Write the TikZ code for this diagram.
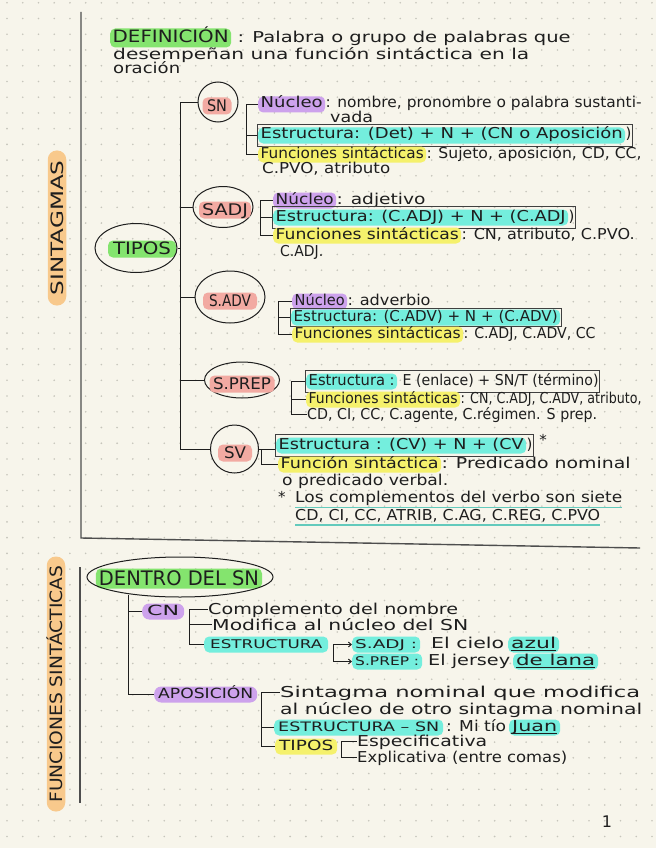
\documentclass[tikz,border=0pt]{standalone}
\usepackage{fontspec}
\setmainfont{DejaVu Sans}
\usepackage{graphicx}
\usetikzlibrary{shapes.geometric,arrows.meta,fit}
\definecolor{paper}{HTML}{F7F5EB}
\definecolor{griddot}{HTML}{C6C5BB}
\definecolor{ink}{HTML}{1E1E1E}
\definecolor{rulegray}{HTML}{4E4E4E}
\definecolor{hlgreen}{HTML}{84E46E}
\definecolor{hlpurple}{HTML}{CDA2EC}
\definecolor{hlpink}{HTML}{F2AAA2}
\definecolor{hlcyan}{HTML}{74EEDD}
\definecolor{hlyellow}{HTML}{F5F16C}
\definecolor{hlorange}{HTML}{F8C98C}
\newcommand{\fs}[1]{\fontsize{#1}{#1}\selectfont}
\newcommand{\hw}[2]{\resizebox{#1pt}{\height}{#2}} % stretch a hand-written line to its width
\tikzset{
    txt/.style={inner sep=0pt, anchor=base west, text=ink, font=\fs{15}},
    hl/.style={txt, inner xsep=2.5pt, inner ysep=2pt, text height=9.5pt, text depth=2.5pt, rounded corners=5pt},
    hlg/.style={hl, fill=hlgreen},
    hlp/.style={hl, fill=hlpurple},
    hlk/.style={hl, fill=hlpink, anchor=center, font=\fs{16}, text height=11.5pt, text depth=0.5pt, inner ysep=2.5pt},
    hlc/.style={hl, fill=hlcyan},
    hly/.style={hl, fill=hlyellow},
    sidelabel/.style={fill=hlorange, rotate=90, anchor=center, rounded corners=9pt, inner xsep=10pt, inner ysep=3pt,
        text height=12.5pt, text depth=0pt, text=ink, font=\fs{17}},
    ln/.style={draw=ink, line width=0.9pt},
    ring/.style={ellipse, draw=ink, line width=1pt, inner sep=0pt},
    ebox/.style={draw=ink!85, line width=1pt, inner xsep=1pt, inner ysep=2.5pt},
    pagerule/.style={draw=rulegray, line width=1.4pt},
    uline/.style={draw=hlcyan!85!black, line width=1.2pt},
    tline/.style={draw=ink, line width=0.7pt},
    arr/.style={ln, -{Straight Barb[length=3pt,width=5pt]}}
}
\begin{document}
\begin{tikzpicture}[x=1pt,y=-1pt]
    \useasboundingbox (0,0) rectangle (656,848);
    \fill[paper] (0,0) rectangle (656,848); % paper
    \foreach \i in {0,...,41}{
        \foreach \j in {0,...,53}{
            \fill[griddot] (7+15.73*\i,2.8+15.73*\j) circle (0.9pt); % dot grid
        }
    }

    % page rules and side labels
    \draw[pagerule] (81,12) -- (81,538) -- (640,548);
    \draw[pagerule] (80,567) -- (80,803);
    \node[sidelabel] (sintagmas) at (57,228) {\hw{135}{SINTAGMAS}};
    \node[sidelabel, inner xsep=9pt] (funciones) at (56,684) {\hw{237}{FUNCIONES SINTÁCTICAS}};

    % definition
    \node[hlg, font=\fs{17}, text height=12.5pt] (defin) at (110,43) {\hw{116}{DEFINICIÓN}};
    \node[txt] (def1) at ([xshift=6pt]defin.base east) {\hw{333}{: Palabra o grupo de palabras que}};
    \node[txt] (def2) at (113,60) {\hw{416}{desempeñan una función sintáctica en la}};
    \node[txt] (def3) at (113,74) {\hw{67}{oración}};

    % tipos and the five sintagmas
    \node[hlg, anchor=center, font=\fs{17}, text height=12pt, text depth=1pt, inner xsep=5pt] (tiposlab) at (142,249) {\hw{58}{TIPOS}};
    \node[ring, minimum width=82, minimum height=49] (tipos) at (136,248) {};
    \node[ring, minimum width=40, minimum height=40] (sn) at (218,102) {};
    \node[hlk, inner xsep=4.5pt] (snlab) at (217,106) {\hw{20}{SN}};
    \node[ring, minimum width=60, minimum height=41] (sadj) at (223,207) {};
    \node[hlk, inner xsep=3pt] (sadjlab) at (225,210) {\hw{46}{SADJ}};
    \node[ring, minimum width=70, minimum height=52] (sadv) at (230,297) {};
    \node[hlk, inner xsep=6pt] (sadvlab) at (230,301) {\hw{42}{S.ADV}};
    \node[ring, minimum width=75, minimum height=36] (sprep) at (242,380) {};
    \node[hlk, inner xsep=3.5pt] (spreplab) at (242,384) {\hw{58}{S.PREP}};
    \node[ring, minimum width=48, minimum height=48] (sv) at (234.5,449) {};
    \node[hlk, inner xsep=6pt] (svlab) at (235,453) {\hw{22}{SV}};
    \coordinate (spbot) at ([xshift=-30pt]sv.west);
    \draw[ln] (sn.west) -| (spbot) -- (sv.west);
    \foreach \n in {sadj,sadv,sprep}
        \draw[ln] (\n.west -| spbot) -- (\n.west);
    \draw[ln] (tipos.east) -- (tipos.east -| spbot);

    % SN
    \node[hlp] (snnuc) at (258,108) {\hw{62}{Núcleo}};
    \node[txt] (snnuct) at (snnuc.base east) {\hw{316}{: nombre, pronombre o palabra sustanti-}};
    \node[txt] (snvada) at (330,123) {\hw{43}{vada}};
    \node[hlc] (snest) at (258,139) {\hw{362}{Estructura: (Det) + N + (CN o Aposición}};
    \node[txt] (snestp) at (snest.base east) {)};
    \node[ebox, fit=(snest)(snestp)] (snbox) {};
    \node[hly] (snfun) at (258,158) {\hw{163}{Funciones sintácticas}};
    \node[txt] (snfunt) at (snfun.base east) {\hw{215}{: Sujeto, aposición, CD, CC,}};
    \node[txt] (snfun2) at (262,173) {\hw{128}{C.PVO, atributo}};
    \coordinate (snbr) at ([xshift=-12pt]snnuc.west);
    \foreach \t in {snnuc,snbox,snfun}
        \draw[ln] (snbr) |- (\t.west);

    % SADJ
    \node[hlp] (sanuc) at (273,204) {\hw{58}{Núcleo}};
    \node[txt] (sanuct) at (sanuc.base east) {\hw{89}{: adjetivo}};
    \node[hlc] (saest) at (273,221) {\hw{290}{Estructura: (C.ADJ) + N + (C.ADJ}};
    \node[txt] (saestp) at (saest.base east) {)};
    \node[ebox, fit=(saest)(saestp)] (sabox) {};
    \node[hly] (safun) at (273,239) {\hw{183}{Funciones sintácticas}};
    \node[txt] (safunt) at (safun.base east) {\hw{173}{: CN, atributo, C.PVO.}};
    \node[txt] (safun2) at (280,256) {\hw{43}{C.ADJ.}};
    \coordinate (sabr) at ([xshift=-13pt]sanuc.west);
    \foreach \t in {sanuc,sabox,safun}
        \draw[ln] (sabr) |- (\t.west);

    % S.ADV
    \node[hlp] (adnuc) at (292,305) {\hw{50}{Núcleo}};
    \node[txt] (adnuct) at (adnuc.base east) {\hw{83}{: adverbio}};
    \node[hlc] (adest) at (291,321) {\hw{264}{Estructura: (C.ADV) + N + (C.ADV)}};
    \node[ebox, inner ysep=1pt, fit=(adest)] (adbox) {};
    \node[hly] (adfun) at (292,338) {\hw{166}{Funciones sintácticas}};
    \node[txt] (adfunt) at (adfun.base east) {\hw{132}{: C.ADJ, C.ADV, CC}};
    \coordinate (adbr) at ([xshift=-14pt]adnuc.west);
    \foreach \t in {adnuc,adbox,adfun}
        \draw[ln] (adbr) |- (\t.west);

    % S.PREP
    \node[hlc] (prest) at (306,385) {\hw{86}{Estructura :}};
    \node[txt] (prestt) at ([xshift=5pt]prest.base east) {\hw{196}{E (enlace) + SN/T (término)}};
    \node[ebox, fit=(prest)(prestt)] (prbox) {};
    \node[hly] (prfun) at (306,403) {\hw{149}{Funciones sintácticas}};
    \node[txt] (prfunt) at (prfun.base east) {\hw{181}{: CN, C.ADJ, C.ADV, atributo,}};
    \node[txt] (prfun2) at (307,419) {\hw{290}{CD, CI, CC, C.agente, C.régimen. S prep.}};
    \coordinate (prbr) at ([xshift=-13pt]prbox.west);
    \foreach \t in {prbox,prfun,prfun2}
        \draw[ln] (prbr) |- (\t.west);

    % SV
    \node[hlc] (svest) at (276,449) {\hw{245}{Estructura : (CV) + N + (CV}};
    \node[txt] (svestp) at (svest.base east) {)};
    \node[ebox, fit=(svest)(svestp)] (svbox) {};
    \node[txt, anchor=north west] (svstar) at ([xshift=5pt]svbox.north east) {*};
    \node[hly] (svfun) at (278,468) {\hw{158}{Función sintáctica}};
    \node[txt] (svfunt) at (svfun.base east) {\hw{189}{: Predicado nominal}};
    \node[txt] (svfun2) at (282,485) {\hw{166}{o predicado verbal.}};
    \node[txt] (svast) at (278,502) {*};
    \node[txt] (svnote) at (295,502) {\hw{327}{Los complementos del verbo son siete}};
    \node[txt] (svlist) at (295,520) {\hw{305}{CD, CI, CC, ATRIB, C.AG, C.REG, C.PVO}};
    \draw[uline] ([yshift=-2pt]svnote.south west) -- ([yshift=-2pt]svnote.south east);
    \draw[uline] ([yshift=-3pt]svlist.south west) -- ([yshift=-3pt]svlist.south east);
    \coordinate (svbr) at ([xshift=2pt]sv.east);
    \draw[ln] (sv.east) -- (sv.east -| svbox.west);
    \draw[ln] (svbr) |- (svfun.west);

    % dentro del SN
    \node[hlg, anchor=base, font=\fs{20}, text height=14pt, text depth=1pt, inner xsep=3pt, inner ysep=2.5pt] (dentrolab) at (179,585) {\hw{160}{DENTRO DEL SN}};
    \node[ring, minimum width=186, minimum height=40] (dentro) at (180,577) {};
    \coordinate (fsbr) at ([xshift=-52pt,yshift=3pt]dentro.south);

    % CN
    \node[hlp, font=\fs{14}, inner xsep=5pt, rounded corners=7pt] (cn) at (142,615) {\hw{32}{CN}};
    \node[txt] (cn1) at (208,614) {\hw{250}{Complemento del nombre}};
    \node[txt] (cn2) at (212,630) {\hw{256}{Modifica al núcleo del SN}};
    \node[hlc, font=\fs{12}, inner xsep=6pt] (cnest) at (204,648) {\hw{112}{ESTRUCTURA}};
    \node[hlc, font=\fs{12}, inner xsep=3pt] (csadj) at (352,648) {\hw{62}{S.ADJ :}};
    \node[txt] (csadjt) at (431,648) {\hw{73}{El cielo}};
    \node[hlc, inner xsep=3pt] (csadjz) at (508,648) {\hw{45}{azul}};
    \node[hlc, font=\fs{12}, inner xsep=3pt] (csprep) at (352,665) {\hw{64}{S.PREP :}};
    \node[txt] (csprept) at (428,665) {\hw{82}{El jersey}};
    \node[hlc, inner xsep=3pt] (csprepz) at (513,665) {\hw{79}{de lana}};
    \draw[tline] ([xshift=3pt,yshift=-2pt]csadjz.base west) -- ([xshift=-3pt,yshift=-2pt]csadjz.base east);
    \draw[tline] ([xshift=3pt,yshift=-2pt]csprepz.base west) -- ([xshift=-3pt,yshift=-2pt]csprepz.base east);
    \coordinate (cnbr) at ([xshift=5pt]cn.east);
    \foreach \t in {cn1,cn2,cnest}
        \draw[ln] (cnbr) |- (\t.west);
    \draw[arr] ([xshift=5pt]cnest.east) |- (csadj.west);
    \draw[arr] ([xshift=5pt]cnest.east) |- (csprep.west);

    % aposicion
    \node[hlp, font=\fs{14}, inner xsep=4pt, rounded corners=7pt] (apos) at (154,698) {\hw{95}{APOSICIÓN}};
    \node[txt] (ap1) at (280,697) {\hw{360}{Sintagma nominal que modifica}};
    \node[txt] (ap2) at (280,714) {\hw{362}{al núcleo de otro sintagma nominal}};
    \node[hlc, font=\fs{13}, inner xsep=4pt] (apest) at (274,731) {\hw{161}{ESTRUCTURA – SN}};
    \node[txt] (apestt) at (446,731) {\hw{60}{: Mi tío}};
    \node[hlc, inner xsep=3pt] (apjuan) at (509,731) {\hw{45}{Juan}};
    \draw[tline] ([xshift=3pt,yshift=-2pt]apjuan.base west) -- ([xshift=-3pt,yshift=-2pt]apjuan.base east);
    \node[hly, font=\fs{14}, inner xsep=4pt] (aptipos) at (275,750) {\hw{54}{TIPOS}};
    \node[txt] (apesp) at (357,746) {\hw{130}{Especificativa}};
    \node[txt] (apexp) at (357,762) {\hw{210}{Explicativa (entre comas)}};
    \coordinate (apbr) at ([xshift=4pt]apos.east);
    \foreach \t in {ap1,apest,aptipos}
        \draw[ln] (apbr) |- (\t.west);
    \coordinate (tpbr) at ([xshift=4pt]aptipos.east);
    \foreach \t in {apesp,apexp}
        \draw[ln] (tpbr) |- (\t.west);
    \draw[ln] (fsbr) |- (cn.west);
    \draw[ln] (fsbr) |- (apos.west);

    \node[txt, anchor=center, font=\fs{16}] (pagenum) at (607,822) {1};
\end{tikzpicture}
\end{document}
